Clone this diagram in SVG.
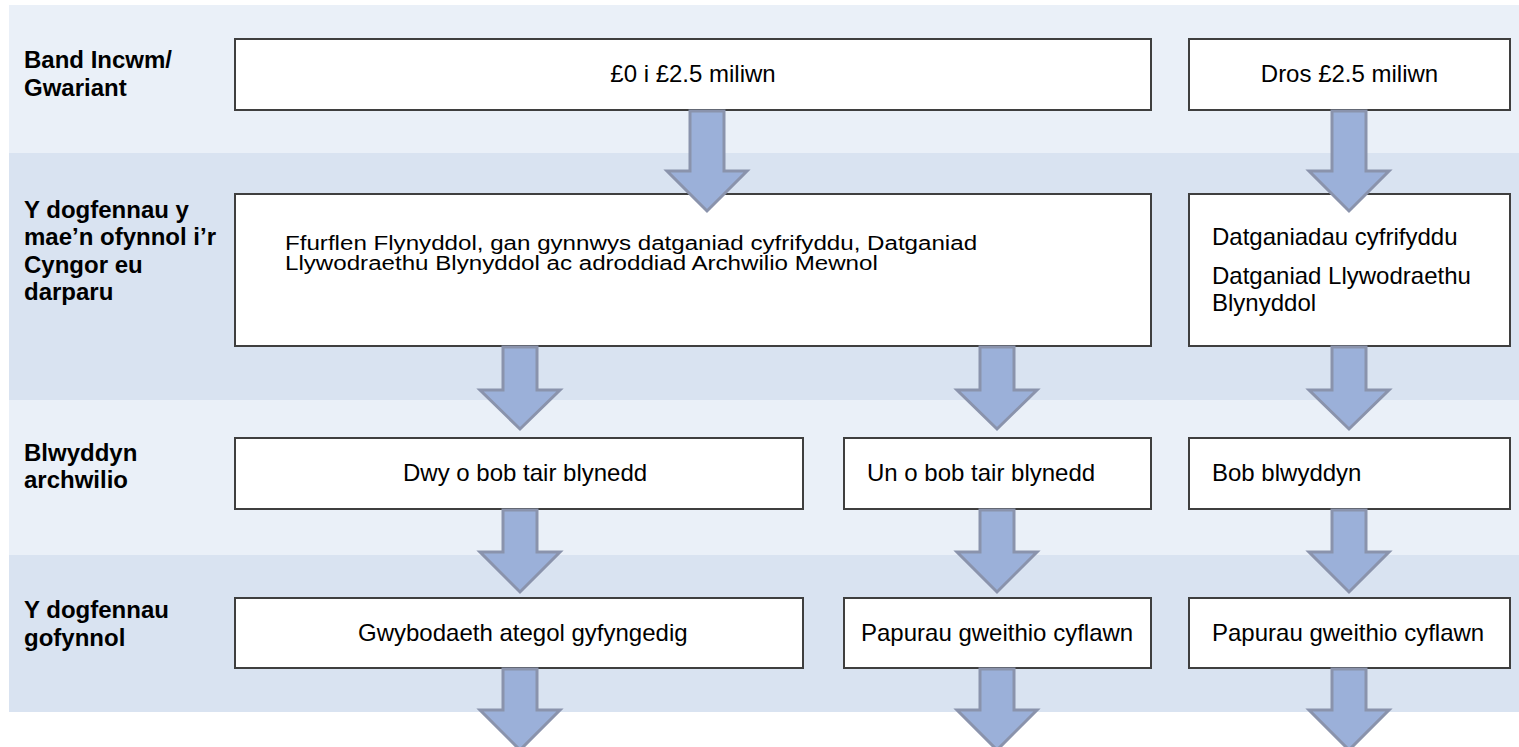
<svg xmlns="http://www.w3.org/2000/svg" width="1519" height="747" viewBox="0 0 1519 747">
<style>
.bandA{fill:#EAF0F8}
.bandB{fill:#D9E3F1}
.box{fill:#FFFFFF;stroke:#3F3F3F;stroke-width:2}
.lbl{font-family:"Liberation Sans",Arial,sans-serif;font-size:24px;font-weight:bold;fill:#000}
.txt{font-family:"Liberation Sans",Arial,sans-serif;font-size:24px;fill:#000}
.txt2{font-family:"Liberation Sans",Arial,sans-serif;font-size:21px;fill:#000}
.arr{fill:#9BB0D9;stroke:#8A93AC;stroke-width:3;stroke-linejoin:miter}
</style>
<rect width="1519" height="747" fill="#FFFFFF"/>
<g id="bands">
<rect class="bandA" x="9" y="5" width="1510" height="148"/>
<rect class="bandB" x="9" y="153" width="1510" height="247"/>
<rect class="bandA" x="9" y="400" width="1510" height="155"/>
<rect class="bandB" x="9" y="555" width="1510" height="157"/>
</g>
<g id="labels">
<text class="lbl" x="24" y="68">Band Incwm/</text>
<text class="lbl" x="24" y="96">Gwariant</text>
<text class="lbl" x="24" y="218">Y dogfennau y</text>
<text class="lbl" x="24" y="245">mae’n ofynnol i’r</text>
<text class="lbl" x="24" y="273">Cyngor eu</text>
<text class="lbl" x="24" y="300">darparu</text>
<text class="lbl" x="24" y="461">Blwyddyn</text>
<text class="lbl" x="24" y="488">archwilio</text>
<text class="lbl" x="24" y="618">Y dogfennau</text>
<text class="lbl" x="24" y="646">gofynnol</text>
</g>
<g id="n-band-low">
<rect class="box" x="235" y="39" width="916" height="71"/>
<text class="txt" x="693" y="82" text-anchor="middle">£0 i £2.5 miliwn</text>
</g>
<g id="n-band-high">
<rect class="box" x="1189" y="39" width="321" height="71"/>
<text class="txt" x="1349.5" y="82" text-anchor="middle">Dros £2.5 miliwn</text>
</g>
<g id="n-docs-low">
<rect class="box" x="235" y="194" width="916" height="152"/>
<text class="txt2" transform="translate(285 250) scale(1.15 1)">Ffurflen Flynyddol, gan gynnwys datganiad cyfrifyddu, Datganiad</text>
<text class="txt2" transform="translate(285 270) scale(1.15 1)">Llywodraethu Blynyddol ac adroddiad Archwilio Mewnol</text>
</g>
<g id="n-docs-high">
<rect class="box" x="1189" y="194" width="321" height="152"/>
<text class="txt" x="1212" y="245">Datganiadau cyfrifyddu</text>
<text class="txt" x="1212" y="284">Datganiad Llywodraethu</text>
<text class="txt" x="1212" y="311">Blynyddol</text>
</g>
<g id="n-year-two">
<rect class="box" x="235" y="438" width="568" height="71"/>
<text class="txt" x="403" y="481">Dwy o bob tair blynedd</text>
</g>
<g id="n-year-one">
<rect class="box" x="844" y="438" width="307" height="71"/>
<text class="txt" x="867" y="481">Un o bob tair blynedd</text>
</g>
<g id="n-year-every">
<rect class="box" x="1189" y="438" width="321" height="71"/>
<text class="txt" x="1212" y="481">Bob blwyddyn</text>
</g>
<g id="n-req-limited">
<rect class="box" x="235" y="598" width="568" height="70"/>
<text class="txt" x="358" y="641">Gwybodaeth ategol gyfyngedig</text>
</g>
<g id="n-req-full1">
<rect class="box" x="844" y="598" width="307" height="70"/>
<text class="txt" x="861" y="641">Papurau gweithio cyflawn</text>
</g>
<g id="n-req-full2">
<rect class="box" x="1189" y="598" width="321" height="70"/>
<text class="txt" x="1212" y="641">Papurau gweithio cyflawn</text>
</g>
<g id="connectors">
<polygon class="arr" points="690,111 724,111 724,171 747,171 707,211 667,171 690,171"/>
<polygon class="arr" points="1332,111 1366,111 1366,171 1389,171 1349,211 1309,171 1332,171"/>
<polygon class="arr" points="503,347 537,347 537,390 560,390 520,429 480,390 503,390"/>
<polygon class="arr" points="980,347 1014,347 1014,390 1037,390 997,429 957,390 980,390"/>
<polygon class="arr" points="1332,347 1366,347 1366,390 1389,390 1349,429 1309,390 1332,390"/>
<polygon class="arr" points="503,510 537,510 537,552 560,552 520,592 480,552 503,552"/>
<polygon class="arr" points="980,510 1014,510 1014,552 1037,552 997,592 957,552 980,552"/>
<polygon class="arr" points="1332,510 1366,510 1366,552 1389,552 1349,592 1309,552 1332,552"/>
<polygon class="arr" points="503,669 537,669 537,710 560,710 520,750 480,710 503,710"/>
<polygon class="arr" points="980,669 1014,669 1014,710 1037,710 997,750 957,710 980,710"/>
<polygon class="arr" points="1332,669 1366,669 1366,710 1389,710 1349,750 1309,710 1332,710"/>
</g>
</svg>
